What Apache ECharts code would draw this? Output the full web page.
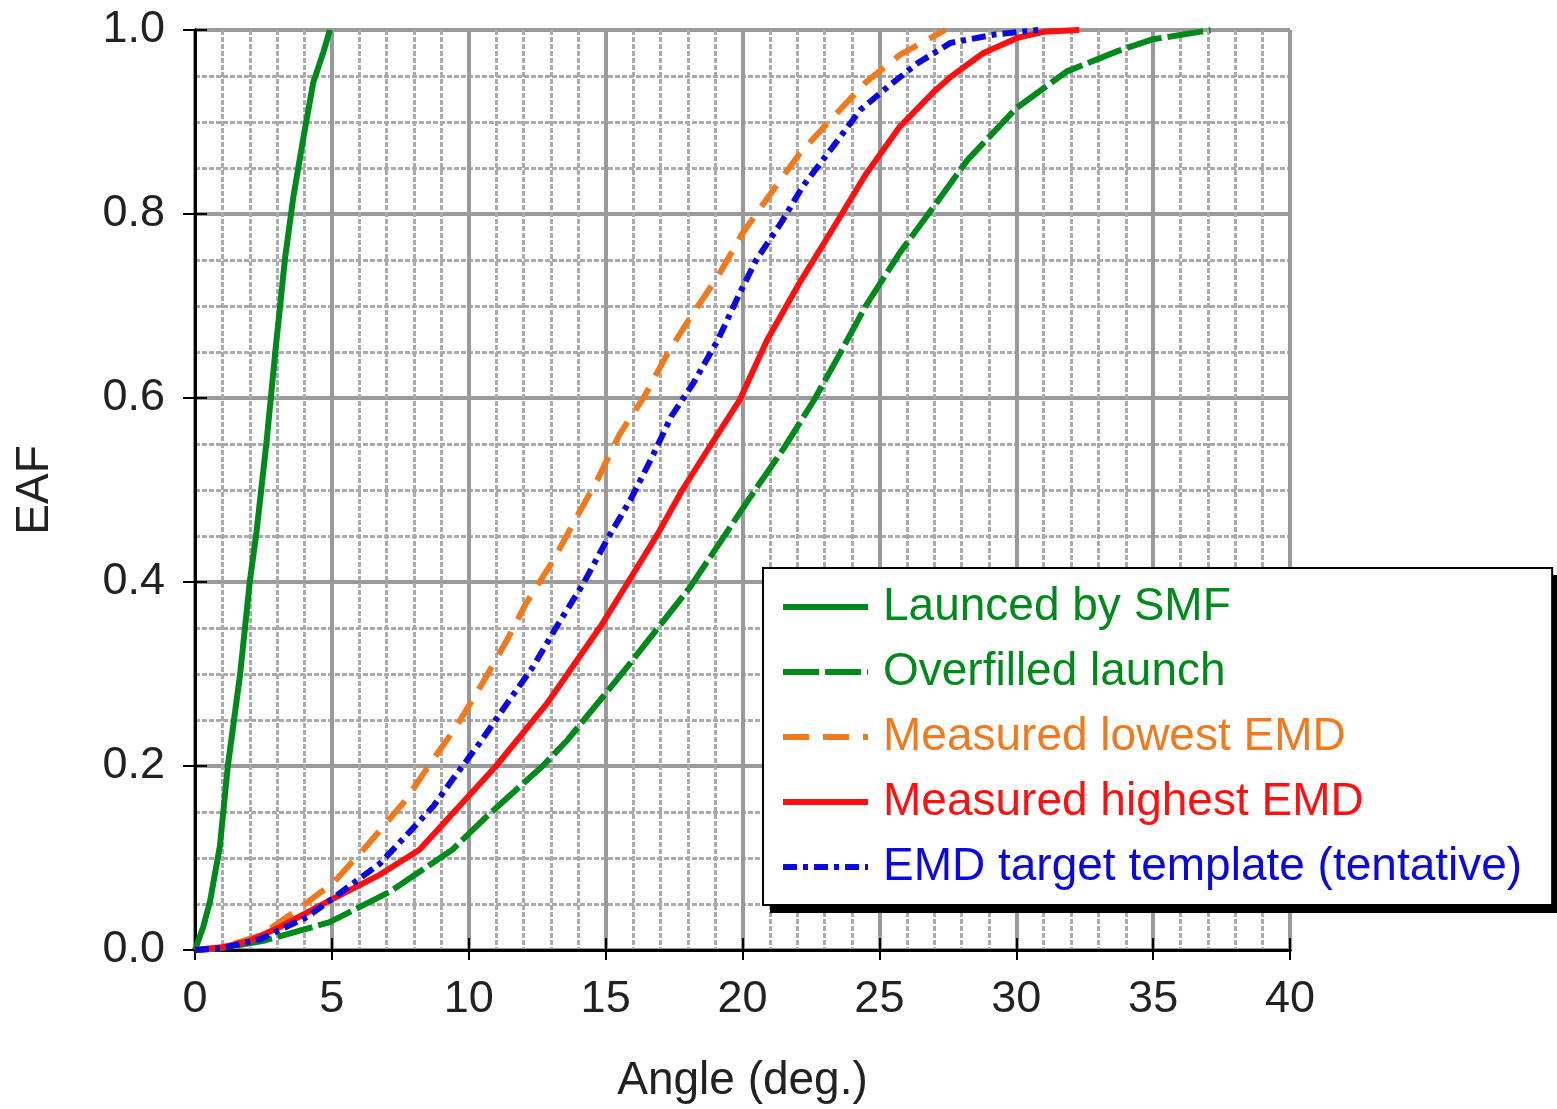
<!DOCTYPE html>
<html>
<head>
<meta charset="utf-8">
<script src="https://cdn.jsdelivr.net/npm/echarts@6/dist/echarts.min.js"></script>
<style>
  html, body { margin: 0; padding: 0; background: #fff; }
  #chart { width: 1557px; height: 1109px; }
</style>
</head>
<body>
<div id="chart"></div>
<script>
// angle (deg.) / EAF
var smfAngle = [0, 0.3, 0.55, 0.91, 1.2, 1.65, 2.0, 2.25, 2.62, 2.92, 3.29, 3.59, 3.96, 4.32, 4.69, 4.93];
var smfEaf   = [0, 0.025, 0.053, 0.113, 0.2, 0.3, 0.4, 0.455, 0.554, 0.646, 0.752, 0.818, 0.883, 0.943, 0.976, 1.0];

var ofAngle = [0, 1, 2.5, 4.9, 7.1, 9.4, 10.65, 12.7, 13.6, 15.8, 18.1, 20.3, 21.5, 22.6, 23.5, 24.5, 25.75, 26.96, 28.2, 30.0, 31.85, 33.7, 35.0, 36.7, 37.1];
var ofEaf   = [0, 0.002, 0.01, 0.03, 0.063, 0.109, 0.145, 0.2, 0.228, 0.308, 0.395, 0.493, 0.545, 0.597, 0.645, 0.7, 0.758, 0.807, 0.858, 0.915, 0.955, 0.977, 0.99, 0.998, 1.0];

var lowAngle = [0, 1, 2.4, 3.7, 5.05, 6.15, 7.7, 8.6, 9.55, 10.5, 11.4, 12.1, 13.1, 13.95, 14.7, 15.5, 16.4, 17.2, 18.1, 19.1, 20.0, 21.0, 22.1, 23.3, 24.5, 25.75, 27.1, 27.4];
var lowEaf   = [0, 0.003, 0.016, 0.043, 0.073, 0.109, 0.163, 0.203, 0.243, 0.29, 0.337, 0.377, 0.424, 0.471, 0.511, 0.56, 0.601, 0.645, 0.688, 0.732, 0.779, 0.821, 0.866, 0.905, 0.943, 0.973, 0.995, 1.0];

var highAngle = [0, 1, 2, 3.1, 4.93, 6.76, 8.2, 9.31, 11.0, 12.86, 14.8, 15.7, 16.9, 17.8, 18.8, 19.9, 20.9, 22.1, 23.3, 24.5, 25.75, 26.96, 27.6, 28.8, 30.1, 31.0, 32.3];
var highEaf   = [0, 0.003, 0.01, 0.025, 0.054, 0.082, 0.109, 0.145, 0.2, 0.268, 0.351, 0.394, 0.452, 0.5, 0.547, 0.598, 0.663, 0.726, 0.784, 0.843, 0.895, 0.932, 0.949, 0.975, 0.992, 0.998, 1.0];

var tmplAngle = [0, 1, 2.4, 4.1, 5.3, 6.76, 8.7, 9.4, 10.4, 11.4, 12.35, 13.2, 14.2, 15.05, 15.9, 16.7, 17.4, 18.2, 19.1, 19.9, 20.5, 21.4, 22.2, 23.3, 24.3, 25.3, 26.4, 27.6, 29.2, 30.8];
var tmplEaf   = [0, 0.002, 0.012, 0.036, 0.062, 0.094, 0.156, 0.185, 0.225, 0.268, 0.308, 0.351, 0.399, 0.446, 0.489, 0.536, 0.58, 0.616, 0.663, 0.714, 0.75, 0.79, 0.83, 0.873, 0.913, 0.938, 0.964, 0.986, 0.995, 1.0];

var names = ["Launced by SMF", "Overfilled launch", "Measured lowest EMD", "Measured highest EMD", "EMD target template (tentative)"];
var colors = ["#008a1c", "#008a1c", "#f07a1e", "#ff1010", "#0a0ae0"];

function pairs(xs, ys) {
    return xs.map(function (x, i) { return [x, ys[i]]; });
}

var font = "'Liberation Sans', Arial, sans-serif";
var chart = echarts.init(document.getElementById("chart"));

function line(i, data, dash) {
    return {
        name: names[i],
        type: "line",
        data: data,
        symbol: "none",
        z: 3,
        lineStyle: { color: colors[i], width: 6, type: dash },
        itemStyle: { color: colors[i] }
    };
}

var option = {
    animation: false,
    backgroundColor: "#fff",
    grid: { left: 195, right: 267, top: 30, bottom: 159 },
    // solid drop shadow behind the legend box
    graphic: [{
        type: "rect", left: 770, top: 575, z: 9,
        shape: { width: 792, height: 338 },
        style: { fill: "#000" }
    }],
    xAxis: [{
        type: "value", min: 0, max: 40, interval: 5,
        name: "Angle (deg.)", nameLocation: "middle", nameGap: 108,
        nameTextStyle: { fontSize: 46, color: "#222", fontFamily: font },
        axisLine: { lineStyle: { color: "#000", width: 3 } },
        axisTick: { inside: true, length: 12, lineStyle: { color: "#000", width: 2 } },
        axisLabel: { fontSize: 45, color: "#222", margin: 27, fontFamily: font },
        splitLine: { show: true, lineStyle: { color: "#9a9a9a", width: 4 } },
        minorSplitLine: { show: true, lineStyle: { color: "#ababab", width: 3, type: [5, 2] } },
        minorTick: { show: false, splitNumber: 5 }
    }, {
        type: "value", min: 0, max: 40, interval: 5, position: "top",
        axisLine: { lineStyle: { color: "#000", width: 3 } },
        axisTick: { inside: true, length: 10, lineStyle: { color: "#000", width: 2 } },
        axisLabel: { show: false },
        splitLine: { show: false }
    }],
    yAxis: [{
        type: "value", min: 0, max: 1, interval: 0.2,
        name: "EAF", nameLocation: "middle", nameGap: 137,
        nameTextStyle: { fontSize: 46, color: "#222", fontFamily: font },
        axisLine: { show: true, lineStyle: { color: "#000", width: 3 } },
        axisTick: { show: true, inside: true, length: 12, lineStyle: { color: "#000", width: 2 } },
        axisLabel: { fontSize: 45, color: "#222", margin: 30, fontFamily: font,
            formatter: function (v) { return v.toFixed(1); } },
        splitLine: { show: true, lineStyle: { color: "#9a9a9a", width: 4 } },
        minorSplitLine: { show: true, lineStyle: { color: "#ababab", width: 3, type: [5, 2] } },
        minorTick: { show: false, splitNumber: 4 }
    }, {
        type: "value", min: 0, max: 1, interval: 0.2, position: "right",
        axisLine: { show: true, lineStyle: { color: "#000", width: 3 } },
        axisTick: { show: true, inside: true, length: 12, lineStyle: { color: "#000", width: 2 } },
        axisLabel: { show: false },
        splitLine: { show: false }
    }],
    legend: {
        orient: "vertical",
        left: 763, top: 568,
        padding: [16, 30, 15, 17],
        itemGap: 19,
        itemWidth: 85,
        itemHeight: 20,
        backgroundColor: "#fff",
        borderColor: "#000",
        borderWidth: 2,
        z: 10,
        itemStyle: { opacity: 0 },
        lineStyle: { width: 6 },
        textStyle: { fontSize: 46, fontFamily: font, lineHeight: 46, padding: [0, 0, 0, 10] },
        data: names.map(function (n, i) {
            return { name: n, textStyle: { color: colors[i] } };
        })
    },
    series: [
        line(0, pairs(smfAngle, smfEaf), "solid"),
        line(1, pairs(ofAngle, ofEaf), [36, 6]),
        line(2, pairs(lowAngle, lowEaf), [26, 14]),
        line(3, pairs(highAngle, highEaf), "solid"),
        line(4, pairs(tmplAngle, tmplEaf), [14, 6, 5, 6])
    ]
};

chart.setOption(option);
</script>
</body>
</html>
